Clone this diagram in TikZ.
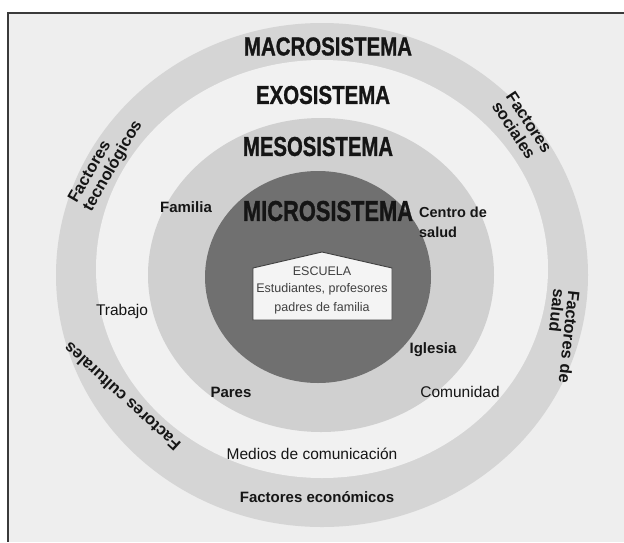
\documentclass[tikz,border=0pt]{standalone}
\usepackage{fontspec}
\setmainfont{Liberation Sans}
\newfontfamily\heavy[FakeBold=1.2]{Liberation Sans Bold}
\usepackage{graphicx}
\definecolor{bgc}{HTML}{EEEEEE}
\definecolor{framec}{HTML}{3A3A3A}
\definecolor{ringc}{HTML}{D5D5D5}
\definecolor{exoc}{HTML}{F1F1F1}
\definecolor{mesoc}{HTML}{D0D0D0}
\definecolor{microc}{HTML}{707070}
\definecolor{housefill}{HTML}{F4F4F4}
\definecolor{houseline}{HTML}{404040}
\definecolor{txt}{HTML}{151515}
\tikzset{
  heading/.style={inner sep=0pt, text=txt},
  boldlbl/.style={inner sep=0pt, text=txt, font=\bfseries\fontsize{15}{17}\selectfont},
  reglbl/.style={inner sep=0pt, text=txt, font=\fontsize{15.5}{17}\selectfont},
  rotlbl/.style={inner sep=0pt, text=txt, align=left, font=\bfseries\fontsize{16.5}{17}\selectfont},
  houselbl/.style={inner sep=0pt, text=houseline, font=\fontsize{12.5}{14}\selectfont}
}
\begin{document}
\begin{tikzpicture}[x=1pt,y=-1pt]
\useasboundingbox (0,0) rectangle (624,542);
\fill[white] (0,0) rectangle (624,542);
\fill[bgc] (8,13) rectangle (624,542);
\draw[framec, line width=1.8pt] (624,13) -- (8,13) -- (8,542);
% circles
\fill[ringc] (322,275) ellipse [x radius=266, y radius=252];
\fill[exoc] (322,269) ellipse [x radius=226, y radius=209];
\fill[mesoc] (321,275) ellipse [x radius=173, y radius=157];
\fill[microc] (318,277) ellipse [x radius=113, y radius=106];
% house
\filldraw[fill=housefill, draw=houseline, line width=0.9pt]
  (253,320) -- (253,268) -- (322,252) -- (392,268) -- (392,320) -- cycle;
% headings
\node[heading] (macro) at (328,46.5) {\resizebox{168pt}{18pt}{\heavy MACROSISTEMA}};
\node[heading] (exo) at (323,95) {\resizebox{134pt}{18pt}{\heavy EXOSISTEMA}};
\node[heading] (meso) at (318,146.5) {\resizebox{150pt}{19pt}{\heavy MESOSISTEMA}};
\node[heading] (micro) at (328,211) {\resizebox{170pt}{20pt}{\heavy MICROSISTEMA}};
% house text
\node[houselbl] (escuela) at (322,271) {ESCUELA};
\node[houselbl] (estud) at (322,289) {Estudiantes, profesores};
\node[houselbl] (padres) at (322,308) {padres de familia};
% labels
\node[boldlbl] (familia) at (186,207) {Familia};
\node[boldlbl, align=left, font=\bfseries\fontsize{14.5}{20}\selectfont] (centro) at (453,222) {Centro de\\salud};
\node[reglbl] (trabajo) at (122,311) {Trabajo};
\node[boldlbl] (iglesia) at (433,350) {Iglesia};
\node[boldlbl] (pares) at (231,392) {Pares};
\node[reglbl] (comunidad) at (460,392) {Comunidad};
\node[reglbl] (medios) at (312,454) {Medios de comunicación};
\node[boldlbl] (economicos) at (317,497) {Factores económicos};
% rotated labels
\node[rotlbl, rotate=60] (tecno) at (106,162) {Factores\\tecnológicos};
\node[rotlbl, rotate=-56.5] (sociales) at (522,127) {Factores\\sociales};
\node[rotlbl, rotate=-96, font=\bfseries\fontsize{16.5}{15}\selectfont] (salud) at (562,336) {Factores de\\salud};
\node[rotlbl, rotate=137.5] (culturales) at (122,397) {Factores culturales};
\end{tikzpicture}
\end{document}
